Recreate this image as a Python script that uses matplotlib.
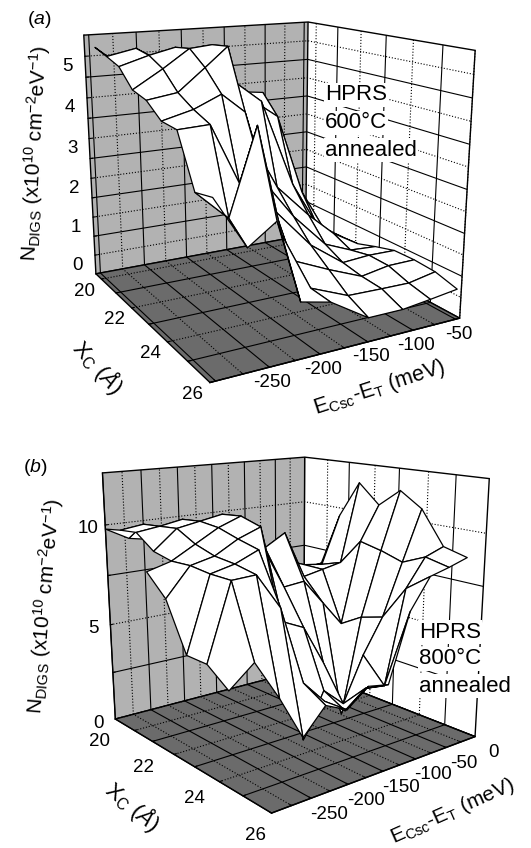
import matplotlib
matplotlib.use('Agg')
import matplotlib.pyplot as plt
import numpy as np
from mpl_toolkits.mplot3d import proj3d
from mpl_toolkits.mplot3d.art3d import Poly3DCollection

plt.rcParams['font.family'] = ['Liberation Sans', 'DejaVu Sans']
plt.rcParams['mathtext.fontset'] = 'custom'
plt.rcParams['mathtext.rm'] = 'Liberation Sans'
plt.rcParams['mathtext.it'] = 'Liberation Sans:italic'
plt.rcParams['mathtext.default'] = 'regular'

W, H = 531, 848
nan = float('nan')

# panel a
energy_a = [-300, -270, -243, -220, -190, -150, -112.5, -81.25, -50]
xc_a = [20, 20.75, 21.5, 22.25, 23, 23.75, 24.5, 25.25, 26]
ndigs_a = [
    [5.25, 4.7, 4.6, 4.4, 4.1, 3.9, 3.8, 1.5, 0.0],
    [5.13, 5.27, 4.9, 4.8, 4.6, 3.9, 3.3, 1.2, 0.0],
    [5.0, 5.2, 5.34, 4.9, 4.6, 3.9, 1.7, 0.5, 0.07],
    [4.6, 5.0, 5.4, 5.45, 3.6, 1.94, 1.1, 0.5, 0.1],
    [4.5, 4.6, 5.08, 5.5, 2.57, 1.42, 0.58, 0.3, 0.26],
    [4.2, 4.37, 4.63, 4.2, 1.92, 0.95, 0.36, 0.41, 0.4],
    [4.17, 4.2, 2.9, 3.0, 1.0, 0.61, 0.28, 0.4, 0.41],
    [3.1, 2.47, 4.26, 1.94, 0.63, 0.27, 0.25, 0.24, 0.37],
    [3.2, 2.1, 2.53, 0.75, 0.6, 0.05, 0.05, 0.13, 0.22],
]
eticks_a = [-300, -275, -250, -225, -200, -175, -150, -125, -100, -75, -50]
xticks_a = [20, 21, 22, 23, 24, 25, 26]
zticks_a = [0, 0.5, 1, 1.5, 2, 2.5, 3, 3.5, 4, 4.5, 5]
elabels_a = [-250, -200, -150, -100, -50]
xlabels_a = [20, 22, 24, 26]
zlabels_a = [0, 1, 2, 3, 4, 5]

# panel b
energy_b = [-330, -300, -270, -240, -210, -180, -150, -120, -90, -60, -30, 0]
xc_b = [20, 20.69, 21.38, 22.07, 22.76, 23.45, 24.14, 24.83, 25.52]
ndigs_b = [
    [nan, 9.8, 9.2, 9.0, 8.8, 8.3, 7.5, 7.2, 6.8, 6.5, 6.2, 6.1],
    [nan, 9.95, 10.1, 9.7, 9.5, 9.0, 8.5, 7.8, 7.3, 7.0, 6.6, 6.7],
    [nan, 10.05, 10.2, 10.4, 10.0, 9.6, 9.0, 8.2, 7.6, 7.2, 7.05, 9.6],
    [nan, 9.4, 10.3, 10.5, 10.7, 10.0, 8.8, 9.4, 7.0, 7.2, 7.4, 11.5],
    [8.9, 9.2, 9.8, 10.4, 10.8, 9.2, 7.1, 7.2, 5.9, 4.6, 8.75, 10.5],
    [8.0, 9.25, 9.5, 10.1, 10.5, 5.9, 5.4, 3.4, 0.43, 5.27, 8.5, 11.4],
    [5.9, 9.15, 9.4, 9.85, 6.1, 0.5, 2.65, 1.7, 3.9, 5.6, 8.15, 10.65],
    [5.9, 9.15, 9.2, 7.6, 4.0, 2.85, 2.1, 2.9, 2.75, 7.3, 8.65, 9.0],
    [5.2, 6.1, 4.3, 2.25, 3.4, 2.9, 3.7, 3.5, 6.7, 8.15, 8.4, 8.7],
]
eticks_b = [-300, -275, -250, -225, -200, -175, -150, -125, -100, -75, -50, -25, 0]
xticks_b = [20.9, 21.7, 22.6, 23.4, 24.3, 25.1]
zticks_b = [0, 2.5, 5, 7.5, 10]
elabels_b = [-250, -200, -150, -100, -50, 0]
xlabels_b = [20, 22, 24, 26]
zlabels_b = [0, 5, 10]


def place_axes(cx, cy, size):
    return fig.add_axes([(cx - size / 2) / W, 1 - (cy + size / 2) / H, size / W, size / H],
                        projection='3d')


def setup(ax, elim, xlim, zlim, eticks, xticks, zticks, estyle, xstyle, zstyle):
    ax.patch.set_alpha(0)
    ax.set_xlim(*elim)
    ax.set_ylim(*xlim)
    ax.set_zlim(*zlim)
    ax.set_xticks(eticks)
    ax.set_yticks(xticks)
    ax.set_zticks(zticks)
    ax.set_xticklabels([])
    ax.set_yticklabels([])
    ax.set_zticklabels([])
    ax.xaxis.set_pane_color('white')
    ax.yaxis.set_pane_color('#b2b2b2')
    ax.zaxis.set_pane_color('#6b6b6b')
    for axis, style in ((ax.xaxis, estyle), (ax.yaxis, xstyle), (ax.zaxis, zstyle)):
        axis.pane.set_edgecolor('k')
        axis.pane.set_linewidth(1.0)
        axis.line.set_color('k')
        axis.line.set_linewidth(1.0)
        axis._axinfo['grid'].update(color='k', linewidth=0.8, linestyle=style)
        axis._axinfo['tick'].update(inward_factor=0.0, outward_factor=0.12)


def draw_surface(ax, energy, xc, values):
    z = np.array(values)
    polys = []
    for j in range(len(xc) - 1):
        for i in range(len(energy) - 1):
            cell = [z[j, i], z[j, i + 1], z[j + 1, i + 1], z[j + 1, i]]
            if np.any(np.isnan(cell)):
                continue
            polys.append([(energy[i], xc[j], cell[0]), (energy[i + 1], xc[j], cell[1]),
                          (energy[i + 1], xc[j + 1], cell[2]), (energy[i], xc[j + 1], cell[3])])
    ax.add_collection3d(Poly3DCollection(polys, facecolors='white', edgecolors='k', linewidths=0.9))


def tick_text(ax, x, y, z, text, dx, dy):
    px, py, _ = proj3d.proj_transform(x, y, z, ax.get_proj())
    ax.annotate(text, (px, py), xytext=(dx, dy), textcoords='offset pixels', ha='center', va='center',
                fontsize=13.5, annotation_clip=False)


def px_text(x, y, text, **kw):
    return fig.text(x / W, 1 - y / H, text, **kw)


fig = plt.figure(figsize=(W / 100, H / 100), dpi=100)

# (a)
ax = place_axes(260, 180, 514)
ax.set_proj_type('persp', focal_length=0.335)
ax.view_init(elev=15, azim=-119.2)
ax.set_box_aspect((0.972, 1.034, 0.94), zoom=0.8926)
setup(ax, (-305, -45), (26, 19.6), (-0.5, 5.5), eticks_a, xticks_a, zticks_a,
      ['-', ':'], [':', '-'], [':', '-'])
draw_surface(ax, energy_a, xc_a, ndigs_a)
for e in elabels_a:
    tick_text(ax, e, 26, -0.5, str(e), 3, -15)
for x in xlabels_a:
    tick_text(ax, -305, x, -0.5, str(x), -17, -12)
for z in zlabels_a:
    tick_text(ax, -305, 19.6, z, str(z), -17, -10)

# (b)
ax = place_axes(284, 613, 503)
ax.set_proj_type('persp', focal_length=0.335)
ax.view_init(elev=14.7, azim=-128.9)
ax.set_box_aspect((0.96, 1.0, 0.96), zoom=0.8817)
setup(ax, (-300, 0), (26, 20), (0, 12.5), eticks_b, xticks_b, zticks_b,
      ['-', ':'], [':', '-'], [':', '-'])
draw_surface(ax, energy_b, xc_b, ndigs_b)
for e in elabels_b:
    tick_text(ax, e, 26, 0, str(e), 18, -16)
for x in xlabels_b:
    tick_text(ax, -300, x, 0, str(x), -16, -22)
for z in zlabels_b:
    tick_text(ax, -300, 20, z, str(z), -17, -4)

ylab = r'N$_{DIGS}$ (x10$^{10}$ cm$^{-2}$eV$^{-1}$)'
xlab = r'X$_{C}$ ($\mathit{\AA}$)'
elab = r'E$_{Csc}$-E$_{T}$ (meV)'
px_text(39, 20, r'($\mathit{a}$)', fontsize=14, ha='center', va='center')
px_text(35, 467, r'($\mathit{b}$)', fontsize=14, ha='center', va='center')
px_text(35, 153, ylab, fontsize=15, rotation=87, ha='center', va='center')
px_text(45, 606, ylab, fontsize=15, rotation=85, ha='center', va='center')
px_text(98, 367, xlab, fontsize=16, rotation=-48, ha='center', va='center')
px_text(133, 806, xlab, fontsize=16, rotation=-40, ha='center', va='center')
px_text(380, 388, elab, fontsize=15.5, rotation=18, ha='center', va='center')
px_text(452, 811, elab, fontsize=15, rotation=24, ha='center', va='center')

box = dict(facecolor='white', edgecolor='none', pad=1)
for y, s in zip((95, 123, 150), ('HPRS', '600°C', 'annealed')):
    px_text(325, y, s, fontsize=16, ha='left', va='center', bbox=box)
for y, s in zip((632, 659, 686), ('HPRS', '800°C', 'annealed')):
    px_text(419, y, s, fontsize=16, ha='left', va='center', bbox=box)

fig.savefig('out.png', dpi=100)
